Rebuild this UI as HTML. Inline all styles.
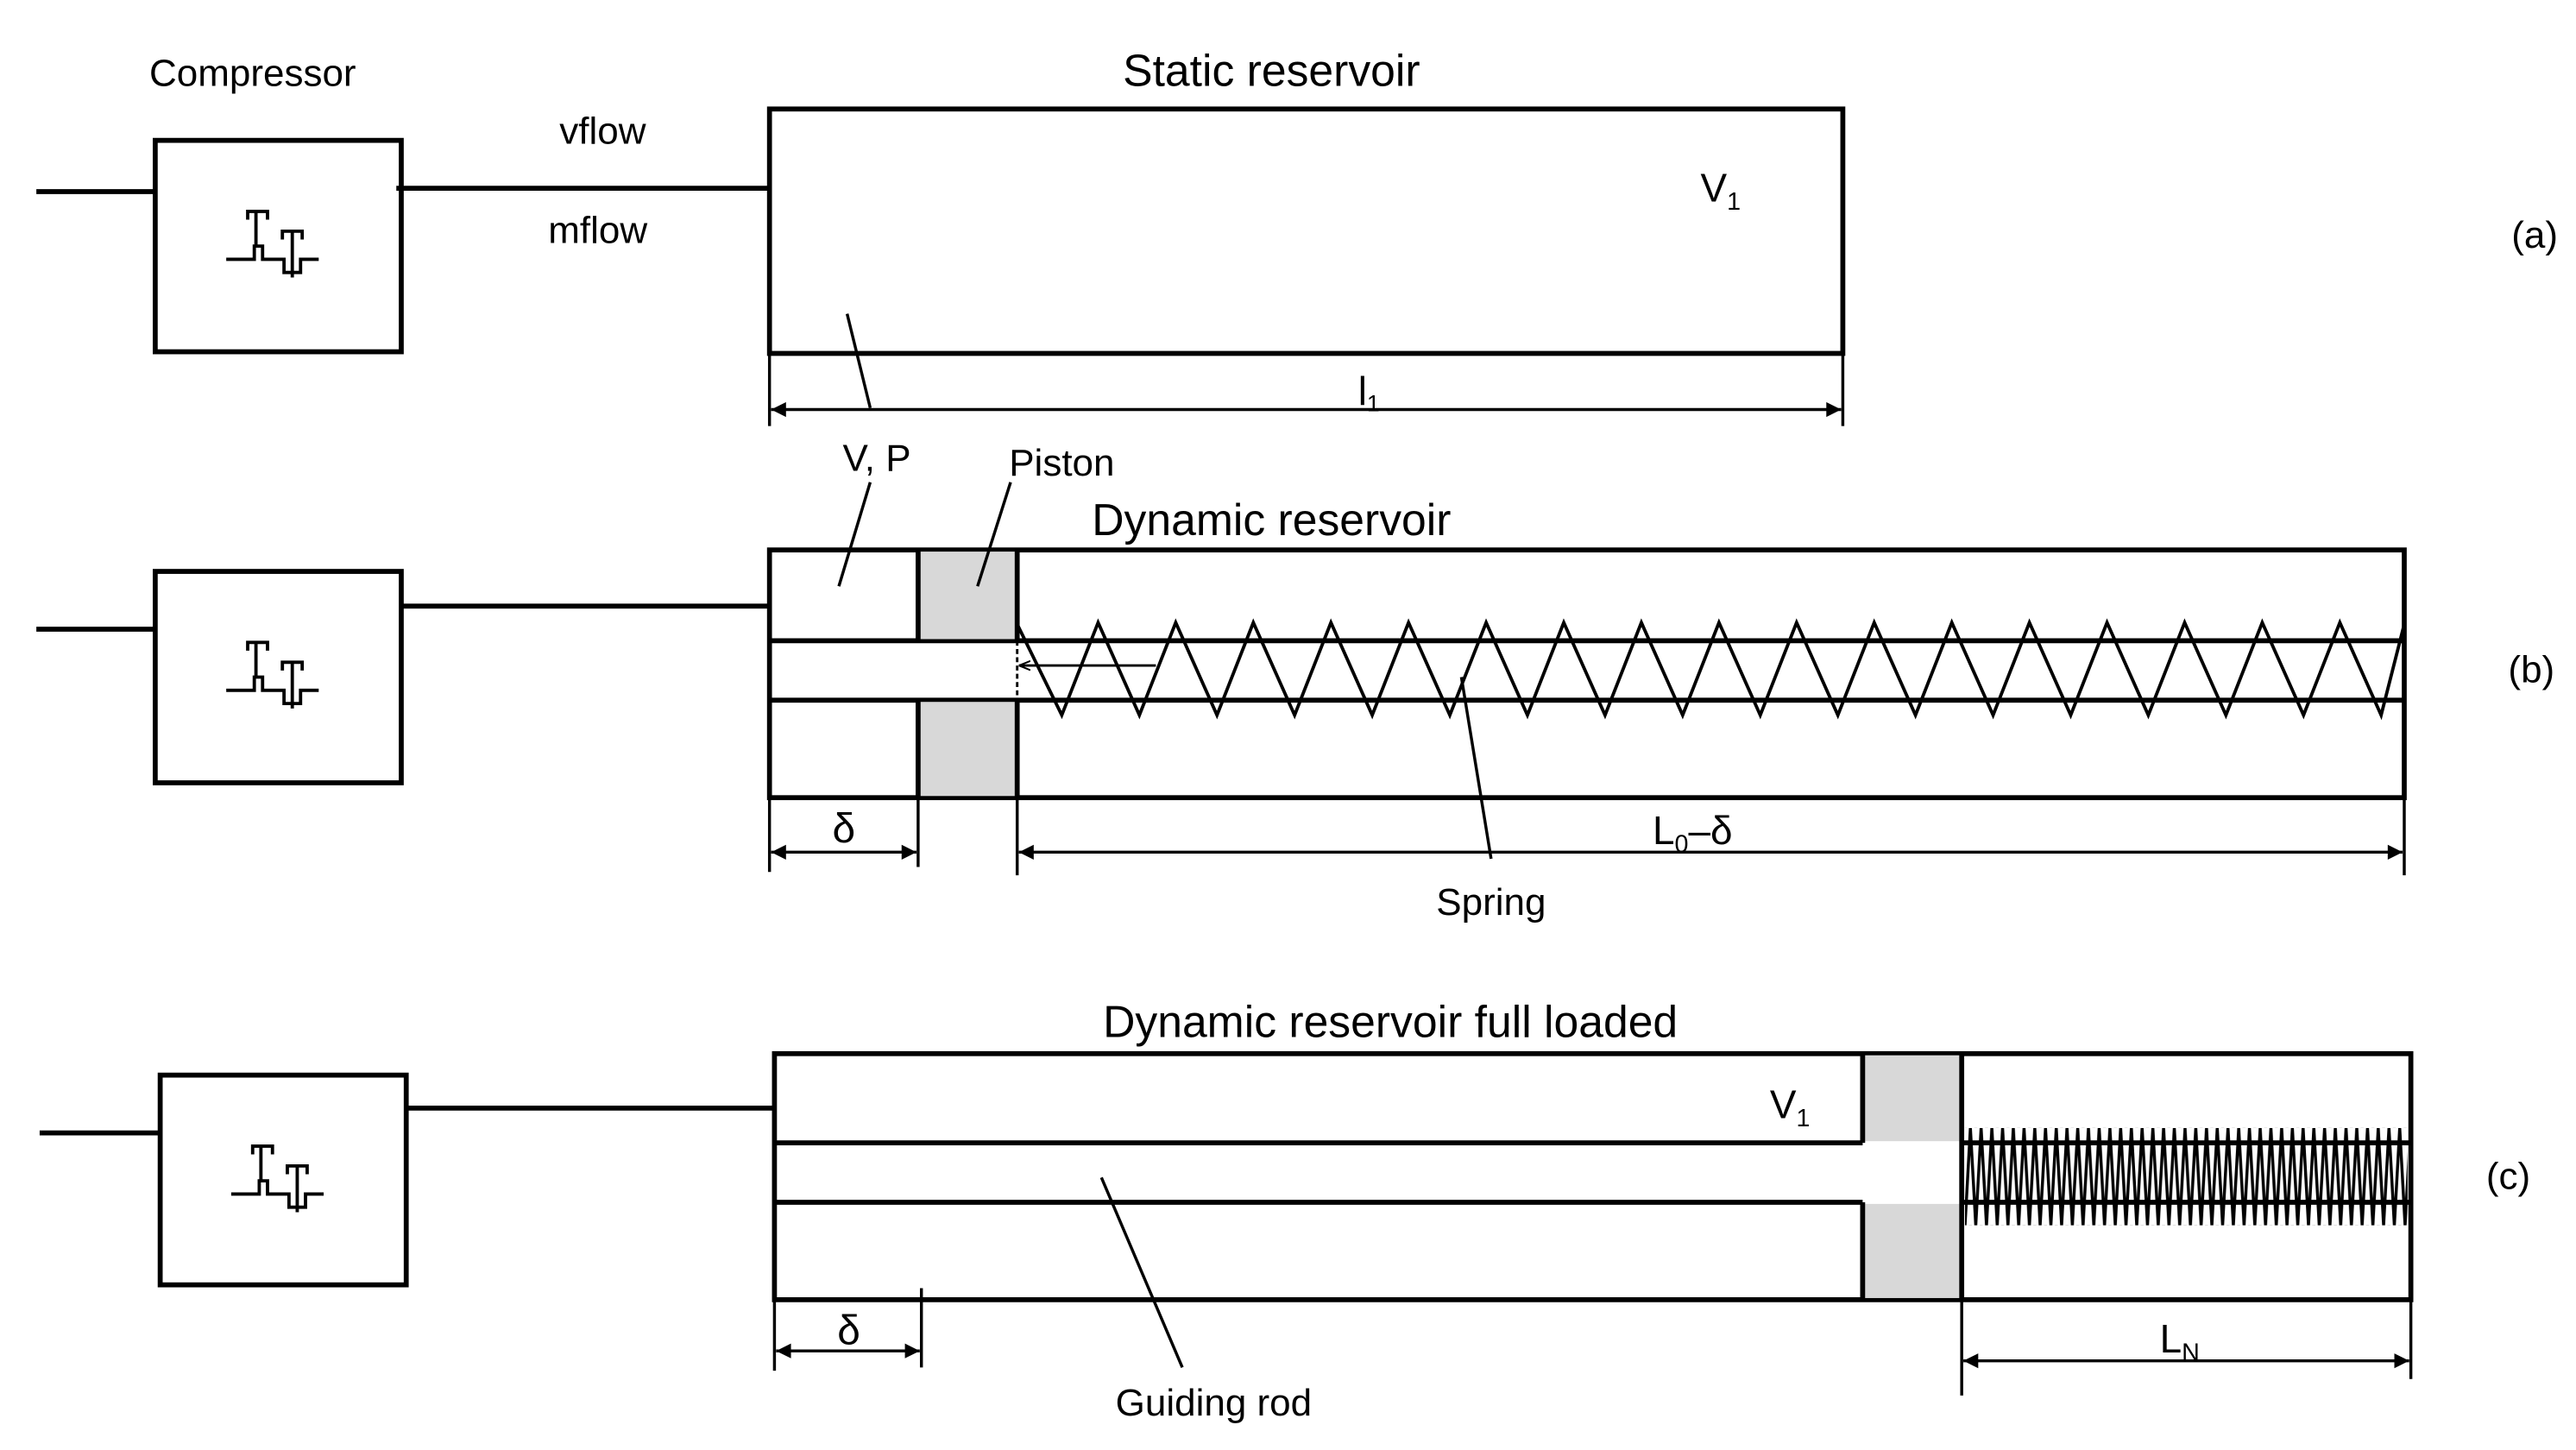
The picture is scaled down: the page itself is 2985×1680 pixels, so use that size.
<!DOCTYPE html>
<html><head><meta charset="utf-8"><style>
html,body{margin:0;padding:0;background:#fff;}
svg{display:block;}
text{font-family:"Liberation Sans",sans-serif;fill:#000;}
</style></head><body>
<svg width="2985" height="1680" viewBox="0 0 1560 878" xmlns="http://www.w3.org/2000/svg">
<defs>
<marker id="ar" viewBox="0 0 10 10" refX="10" refY="5" markerWidth="11" markerHeight="9" orient="auto-start-reverse" markerUnits="userSpaceOnUse"><path d="M0,0 L10,5 L0,10 z" fill="#000"/></marker>
<marker id="ar2" viewBox="0 0 10 10" refX="10" refY="5" markerWidth="7" markerHeight="7" orient="auto-start-reverse" markerUnits="userSpaceOnUse"><path d="M0,1 L10,5 L0,9" fill="none" stroke="#000" stroke-width="1.5"/></marker>
<pattern id="zz" x="1190" y="683" width="6.5" height="59" patternUnits="userSpaceOnUse"><path d="M0,59 L3.25,0 L6.5,59" fill="none" stroke="#000" stroke-width="1.8"/></pattern>
<g id="icon" fill="none" stroke="#000" stroke-width="2">
<path d="M137,157 H154 V149 H159 V157 H172 V165 H182 V157 H193"/>
<path d="M150,133 V128 H162 V133 M155,128 V149"/>
<path d="M171,145 V140 H183 V145 M177,140 V168"/>
</g>
</defs>

<g fill="none" stroke="#000" stroke-width="3">
<line x1="22" y1="116" x2="93" y2="116"/>
<rect x="94" y="85" width="149" height="128"/>
<line x1="240" y1="114" x2="466" y2="114"/>
<rect x="466" y="66" width="650" height="148"/>
<line x1="22" y1="381" x2="93" y2="381"/>
<rect x="94" y="346" width="149" height="128"/>
<line x1="243" y1="367" x2="466" y2="367"/>
<rect x="466" y="333" width="990" height="150"/>
<line x1="466" y1="388" x2="1456" y2="388"/>
<line x1="466" y1="424" x2="1456" y2="424"/>
<line x1="24" y1="686" x2="96" y2="686"/>
<rect x="97" y="651" width="149" height="127"/>
<line x1="246" y1="671" x2="469" y2="671"/>
<rect x="469" y="638" width="991" height="149"/>
<line x1="469" y1="692" x2="1128" y2="692"/>
<line x1="469" y1="728" x2="1128" y2="728"/>
<line x1="1188" y1="692" x2="1460" y2="692"/>
<line x1="1188" y1="728" x2="1460" y2="728"/>
</g>

<rect x="556" y="334" width="60" height="53" fill="#d8d8d8"/>
<rect x="556" y="425" width="60" height="57" fill="#d8d8d8"/>
<rect x="1128" y="639" width="60" height="52" fill="#d8d8d8"/>
<rect x="1128" y="729" width="60" height="57" fill="#d8d8d8"/>
<g stroke="#000" stroke-width="3">
<line x1="556" y1="333" x2="556" y2="388"/><line x1="556" y1="424" x2="556" y2="483"/>
<line x1="616" y1="333" x2="616" y2="388"/><line x1="616" y1="424" x2="616" y2="483"/>
<line x1="1128" y1="638" x2="1128" y2="692"/><line x1="1128" y1="728" x2="1128" y2="787"/>
<line x1="1188" y1="638" x2="1188" y2="787"/>
</g>
<line x1="616" y1="388" x2="616" y2="424" stroke="#000" stroke-width="1.5" stroke-dasharray="3,2"/>

<polyline fill="none" stroke="#000" stroke-width="2" points="616,378 643,433 665,377 690,433 712,377 737,433 759,377 784,433 806,377 831,433 853,377 878,433 900,377 925,433 947,377 972,433 994,377 1019,433 1041,377 1066,433 1088,377 1113,433 1135,377 1160,433 1182,377 1207,433 1229,377 1254,433 1276,377 1301,433 1323,377 1348,433 1370,377 1395,433 1417,377 1442,433 1456,378"/>
<rect x="1190" y="683" width="268" height="59" fill="url(#zz)"/>
<line x1="700" y1="403" x2="617" y2="403" stroke="#000" stroke-width="1.5" marker-end="url(#ar2)"/>

<use href="#icon"/>
<use href="#icon" transform="translate(0,261)"/>
<use href="#icon" transform="translate(3,566)"/>

<g stroke="#000" stroke-width="1.8" fill="none">
<line x1="513" y1="190" x2="527" y2="247"/>
<line x1="466" y1="214" x2="466" y2="258"/><line x1="1116" y1="214" x2="1116" y2="258"/>
<line x1="467" y1="248" x2="1115" y2="248" marker-start="url(#ar)" marker-end="url(#ar)"/>
<line x1="527" y1="292" x2="508" y2="355"/>
<line x1="612" y1="292" x2="592" y2="355"/>
<line x1="885" y1="410" x2="903" y2="520"/>
<line x1="466" y1="483" x2="466" y2="528"/><line x1="556" y1="483" x2="556" y2="525"/>
<line x1="616" y1="483" x2="616" y2="530"/><line x1="1456" y1="483" x2="1456" y2="530"/>
<line x1="467" y1="516" x2="555" y2="516" marker-start="url(#ar)" marker-end="url(#ar)"/>
<line x1="617" y1="516" x2="1455" y2="516" marker-start="url(#ar)" marker-end="url(#ar)"/>
<line x1="667" y1="713" x2="716" y2="828"/>
<line x1="469" y1="787" x2="469" y2="830"/><line x1="558" y1="780" x2="558" y2="828"/>
<line x1="470" y1="818" x2="557" y2="818" marker-start="url(#ar)" marker-end="url(#ar)"/>
<line x1="1188" y1="787" x2="1188" y2="845"/><line x1="1460" y1="787" x2="1460" y2="835"/>
<line x1="1189" y1="824" x2="1459" y2="824" marker-start="url(#ar)" marker-end="url(#ar)"/>
</g>

<g font-size="23" text-anchor="middle">
<text x="153" y="52">Compressor</text>
<text x="365" y="87">vflow</text>
<text x="362" y="147">mflow</text>
<text x="770" y="52" font-size="27">Static reservoir</text>
<text x="1042" y="122" font-size="24">V<tspan font-size="15" dy="5">1</tspan></text>
<text x="1535" y="150">(a)</text>
<text x="829" y="245" font-size="24">l<tspan font-size="14" dy="4">1</tspan></text>
<text x="531" y="285">V, P</text>
<text x="643" y="288">Piston</text>
<text x="770" y="324" font-size="27">Dynamic reservoir</text>
<text x="1533" y="413">(b)</text>
<text x="511" y="510" font-family="Liberation Serif" font-size="25">δ</text>
<text x="1025" y="511" font-size="24">L<tspan font-size="15" dy="5">0</tspan><tspan dy="-5">–δ</tspan></text>
<text x="903" y="554">Spring</text>
<text x="842" y="628" font-size="27">Dynamic reservoir full loaded</text>
<text x="1084" y="677" font-size="24">V<tspan font-size="15" dy="5">1</tspan></text>
<text x="1519" y="720">(c)</text>
<text x="514" y="814" font-family="Liberation Serif" font-size="25">δ</text>
<text x="1320" y="819" font-size="24">L<tspan font-size="15" dy="5">N</tspan></text>
<text x="735" y="857">Guiding rod</text>
</g>
</svg>
</body></html>
